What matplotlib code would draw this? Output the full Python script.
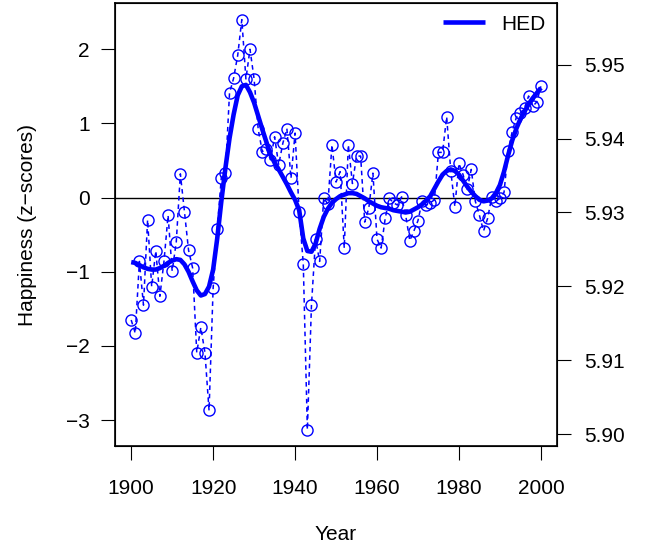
import matplotlib
matplotlib.use("Agg")
import matplotlib.pyplot as plt
import numpy as np

plt.rcParams['font.family'] = ['Liberation Sans', 'DejaVu Sans']

# ---------- data ----------
years = list(range(1900, 2001))

# yearly happiness (z-scores)
happiness = [
    -1.65, -1.83, -0.86, -1.45, -0.30, -1.20, -0.72, -1.33, -0.86, -0.24,  # 1900s
    -0.99, -0.60, 0.32, -0.19, -0.71, -0.95, -2.09, -1.75, -2.09, -2.87,   # 1910s
    -1.22, -0.42, 0.27, 0.33, 1.41, 1.61, 1.92, 2.40, 1.60, 2.00,          # 1920s
    1.60, 0.92, 0.62, 0.66, 0.51, 0.82, 0.44, 0.73, 0.93, 0.26,            # 1930s
    0.87, -0.20, -0.89, -3.13, -1.45, -0.56, -0.86, 0.00, -0.09, 0.71,     # 1940s
    0.21, 0.35, -0.68, 0.71, 0.19, 0.56, 0.56, -0.33, -0.14, 0.33,         # 1950s
    -0.56, -0.68, -0.28, -0.01, -0.07, -0.10, 0.01, -0.24, -0.58, -0.45,   # 1960s
    -0.31, -0.05, -0.10, -0.07, -0.03, 0.61, 0.61, 1.09, 0.36, -0.12,      # 1970s
    0.46, 0.31, 0.11, 0.38, -0.05, -0.24, -0.45, -0.28, 0.01, -0.05,       # 1980s
    -0.01, 0.07, 0.63, 0.89, 1.08, 1.14, 1.21, 1.37, 1.23, 1.29,           # 1990s
    1.50,
]

# smoothed HED curve
hed_smooth = [
    -0.87, -0.88, -0.91, -0.94, -0.96, -0.97, -0.97, -0.95, -0.92, -0.88,
    -0.85, -0.83, -0.84, -0.90, -1.00, -1.13, -1.25, -1.32, -1.30, -1.20,
    -0.97, -0.55, -0.05, 0.40, 0.80, 1.12, 1.38, 1.50, 1.52, 1.42,
    1.28, 1.10, 0.92, 0.75, 0.58, 0.47, 0.38, 0.28, 0.18, 0.07,
    -0.03, -0.17, -0.55, -0.72, -0.73, -0.62, -0.42, -0.26, -0.15, -0.07,
    -0.02, 0.02, 0.04, 0.06, 0.06, 0.05, 0.02, -0.01, -0.05, -0.08,
    -0.11, -0.13, -0.14, -0.15, -0.17, -0.18, -0.19, -0.20, -0.19, -0.16,
    -0.13, -0.09, -0.04, 0.02, 0.12, 0.22, 0.31, 0.36, 0.38, 0.36,
    0.31, 0.23, 0.15, 0.08, 0.02, -0.03, -0.05, -0.04, -0.01, 0.06,
    0.17, 0.35, 0.57, 0.77, 0.93, 1.06, 1.16, 1.26, 1.34, 1.41,
    1.48,
]

# raw HED scale on the right axis (z = (raw - mean) / sd)
raw_mean = 5.932
raw_sd = 0.01004
raw_ticks = [5.90, 5.91, 5.92, 5.93, 5.94, 5.95]

x_ticks = [1900, 1920, 1940, 1960, 1980, 2000]
z_ticks = [-3, -2, -1, 0, 1, 2]

# ---------- plot ----------
blue = '#0000FF'
fig = plt.figure(figsize=(6.45, 5.48), dpi=100)
ax = fig.add_axes([0.178, 0.186, 0.686, 0.808])

ax.axhline(0, color='black', lw=1.0, zorder=1)
ax.plot(years, happiness, color=blue, ls=(0, (3, 2.5)), lw=1.1,
        marker='o', ms=8, mfc='none', mec=blue, mew=1.0, zorder=2)
ax.plot(years, hed_smooth, color=blue, lw=3.3, solid_capstyle='butt',
        label='HED', zorder=3)

ax.set_xlim(1896, 2004)
ax.set_ylim(-3.35, 2.62)
ax.set_xticks(x_ticks)
ax.set_yticks(z_ticks)
ax.set_yticklabels([str(t).replace('-', '\u2212') for t in z_ticks])
ax.tick_params(axis='both', length=10, width=0.8, labelsize=15,
               direction='out')
ax.tick_params(axis='x', pad=14)
ax.tick_params(axis='y', pad=8)
for s in ax.spines.values():
    s.set_linewidth(1.2)

ax.set_xlabel('Year', fontsize=15, labelpad=19)
ax.set_ylabel('Happiness (z\u2212scores)', fontsize=15, labelpad=21)

# right axis on the raw scale
ax2 = ax.twinx()
lo, hi = ax.get_ylim()
ax2.set_ylim(raw_mean + raw_sd * lo, raw_mean + raw_sd * hi)
ax2.set_yticks(raw_ticks)
ax2.set_yticklabels(['%.2f' % t for t in raw_ticks])
ax2.tick_params(axis='y', length=10, width=0.8, labelsize=15, pad=9)

leg = ax.legend(loc='upper right', frameon=False, fontsize=15,
                handlelength=2.0, handletextpad=0.8, borderaxespad=0.15)

fig.savefig('out.png', dpi=100)
